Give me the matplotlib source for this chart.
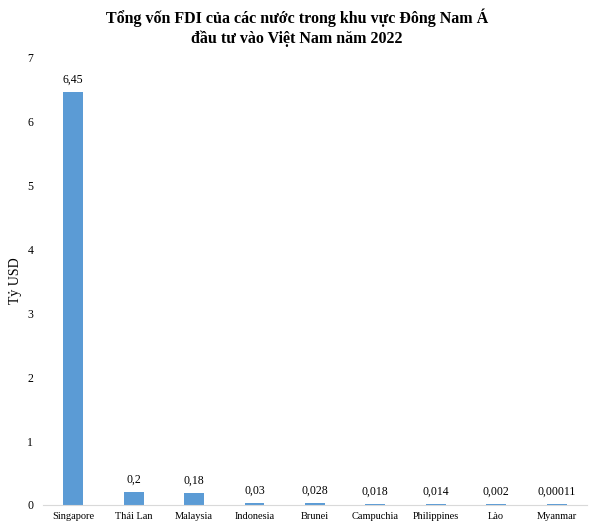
import matplotlib
matplotlib.use("Agg")
import matplotlib.pyplot as plt

countries = ["Singapore", "Thái Lan", "Malaysia", "Indonesia", "Brunei",
             "Campuchia", "Philippines", "Lào", "Myanmar"]
values = [6.45, 0.2, 0.18, 0.03, 0.028, 0.018, 0.014, 0.002, 0.00011]
labels = ["6,45", "0,2", "0,18", "0,03", "0,028", "0,018", "0,014", "0,002", "0,00011"]
# tiny values still show as a thin sliver in the original
shown = [max(v, 0.02) for v in values]

plt.rcParams['font.family'] = ['Liberation Serif', 'DejaVu Serif']

fig = plt.figure(figsize=(5.94, 5.29), dpi=100)
ax = fig.add_axes([0.0724, 0.0454, 0.9156, 0.8466])

x = range(len(countries))
bars = ax.bar(x, shown, width=0.33, color="#5B9BD5")
for b, lab in zip(bars, labels):
    ax.text(b.get_x() + b.get_width() / 2, b.get_height() + 0.1, lab,
            ha='center', va='bottom', fontsize=8.5)

ax.set_xlim(-0.5, len(countries) - 0.5)
ax.set_ylim(0, 7)
ax.set_yticks(range(8))
ax.set_xticks(list(x))
ax.set_xticklabels(countries, fontsize=7.5)
ax.tick_params(axis='y', labelsize=8.5, length=0, pad=7)
ax.tick_params(axis='x', length=0, pad=5)
for s in ['top', 'right', 'left']:
    ax.spines[s].set_visible(False)
ax.spines['bottom'].set_color('#D9D9D9')
ax.set_ylabel("Tỷ USD", fontsize=10, va='center')
ax.yaxis.set_label_coords(-0.051, 0.5)

fig.text(0.5, 0.948, "Tổng vốn FDI của các nước trong khu vực Đông Nam Á\nđầu tư vào Việt Nam năm 2022",
         ha='center', va='center', fontsize=11.5, fontweight='bold', linespacing=1.3)

fig.savefig("out.png", dpi=100, facecolor='white')
